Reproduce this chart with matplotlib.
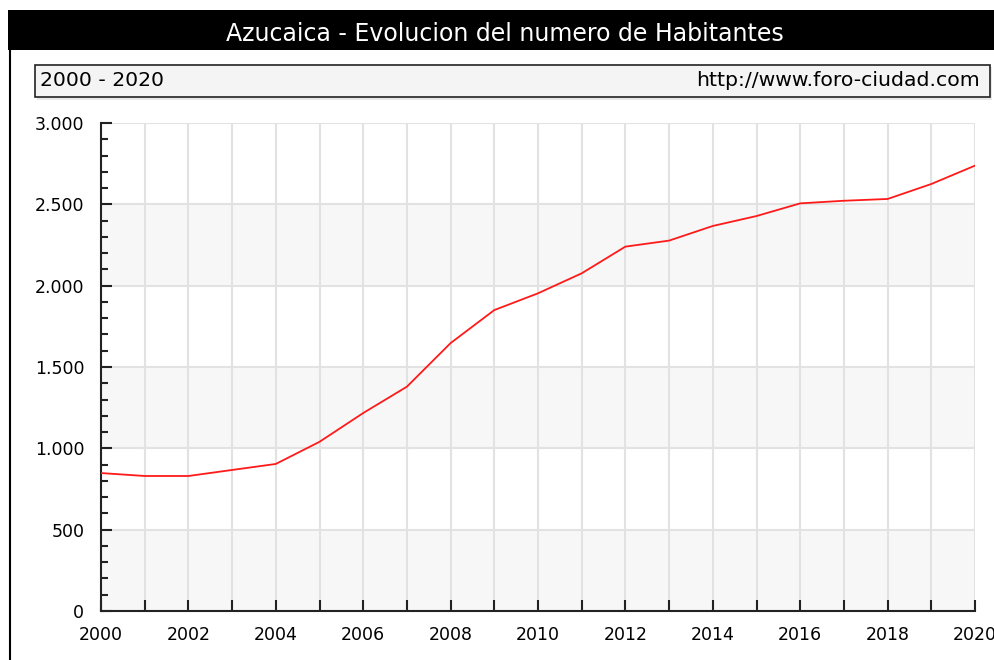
import matplotlib
matplotlib.use("Agg")
import matplotlib.pyplot as plt
from matplotlib.ticker import FuncFormatter, MultipleLocator
from matplotlib.patches import Rectangle

# Datos
anios = [2000, 2001, 2002, 2003, 2004, 2005, 2006, 2007, 2008, 2009, 2010,
         2011, 2012, 2013, 2014, 2015, 2016, 2017, 2018, 2019, 2020]
habitantes = [848, 830, 830, 867, 904, 1040, 1217, 1379, 1647, 1850, 1953,
              2076, 2240, 2277, 2367, 2428, 2506, 2522, 2533, 2625, 2738]

titulo = "Azucaica - Evolucion del numero de Habitantes"
periodo = "2000 - 2020"
web = "http://www.foro-ciudad.com"

W, H = 994, 660
fig = plt.figure(figsize=(W / 100, H / 100), dpi=100)
fig.patch.set_facecolor("white")
plt.rcParams['font.family'] = ['DejaVu Sans']

# Barra del titulo
fig.patches.append(Rectangle((8 / W, 1 - 50 / H), (W - 8) / W, 40 / H,
                             transform=fig.transFigure, facecolor="black",
                             edgecolor="none"))
fig.text(505 / W, 1 - 34 / H, titulo, color="white", fontsize=17,
         ha="center", va="center")

# Linea vertical izquierda
fig.add_artist(plt.Line2D([10 / W, 10 / W], [0, 1 - 50 / H],
                          transform=fig.transFigure, color="black", lw=1.5))

# Caja con el periodo y la web
fig.patches.append(Rectangle((37 / W, 1 - 100 / H), 955 / W, 33 / H,
                             transform=fig.transFigure, facecolor="#e8e8e8",
                             edgecolor="none"))
fig.patches.append(Rectangle((35 / W, 1 - 97 / H), 955 / W, 32 / H,
                             transform=fig.transFigure, facecolor="#f4f4f4",
                             edgecolor="#222222", lw=1.2))
fig.text(40 / W, 1 - 81 / H, periodo, fontsize=14.7, ha="left", va="center")
fig.text(980 / W, 1 - 81 / H, web, fontsize=14.7, ha="right", va="center")

# Area del grafico
ax = fig.add_axes([101 / W, 49 / H, 874 / W, 488 / H])
ax.set_xlim(2000, 2020)
ax.set_ylim(0, 3000)

# Bandas alternas
for y0 in range(0, 3000, 1000):
    ax.axhspan(y0, y0 + 500, color="#f7f7f7", zorder=0, lw=0)

ax.plot(anios, habitantes, color="#ff1a1a", lw=1.3, zorder=3)

ax.xaxis.set_major_locator(MultipleLocator(2))
ax.xaxis.set_minor_locator(MultipleLocator(1))
ax.yaxis.set_major_locator(MultipleLocator(500))
ax.yaxis.set_minor_locator(MultipleLocator(100))
ax.yaxis.set_major_formatter(FuncFormatter(lambda v, p: f"{int(v):,}".replace(",", ".")))

ax.grid(True, which="major", axis="y", color="#e2e2e2", lw=1.5, zorder=1)
ax.grid(True, which="both", axis="x", color="#e2e2e2", lw=1.5, zorder=1)

for s in ["top", "right"]:
    ax.spines[s].set_visible(False)
for s in ["left", "bottom"]:
    ax.spines[s].set_color("#222222")
    ax.spines[s].set_linewidth(1.5)

ax.tick_params(axis="both", which="major", direction="in", length=8, width=1.5,
               color="#222222", labelsize=12.5)
ax.tick_params(axis="both", which="minor", direction="in", length=5, width=1.5,
               color="#222222")
ax.tick_params(axis="x", which="minor", length=8)
ax.tick_params(axis="y", which="major", pad=12)
ax.tick_params(axis="x", which="major", pad=11)

fig.savefig("out.png", dpi=100)
